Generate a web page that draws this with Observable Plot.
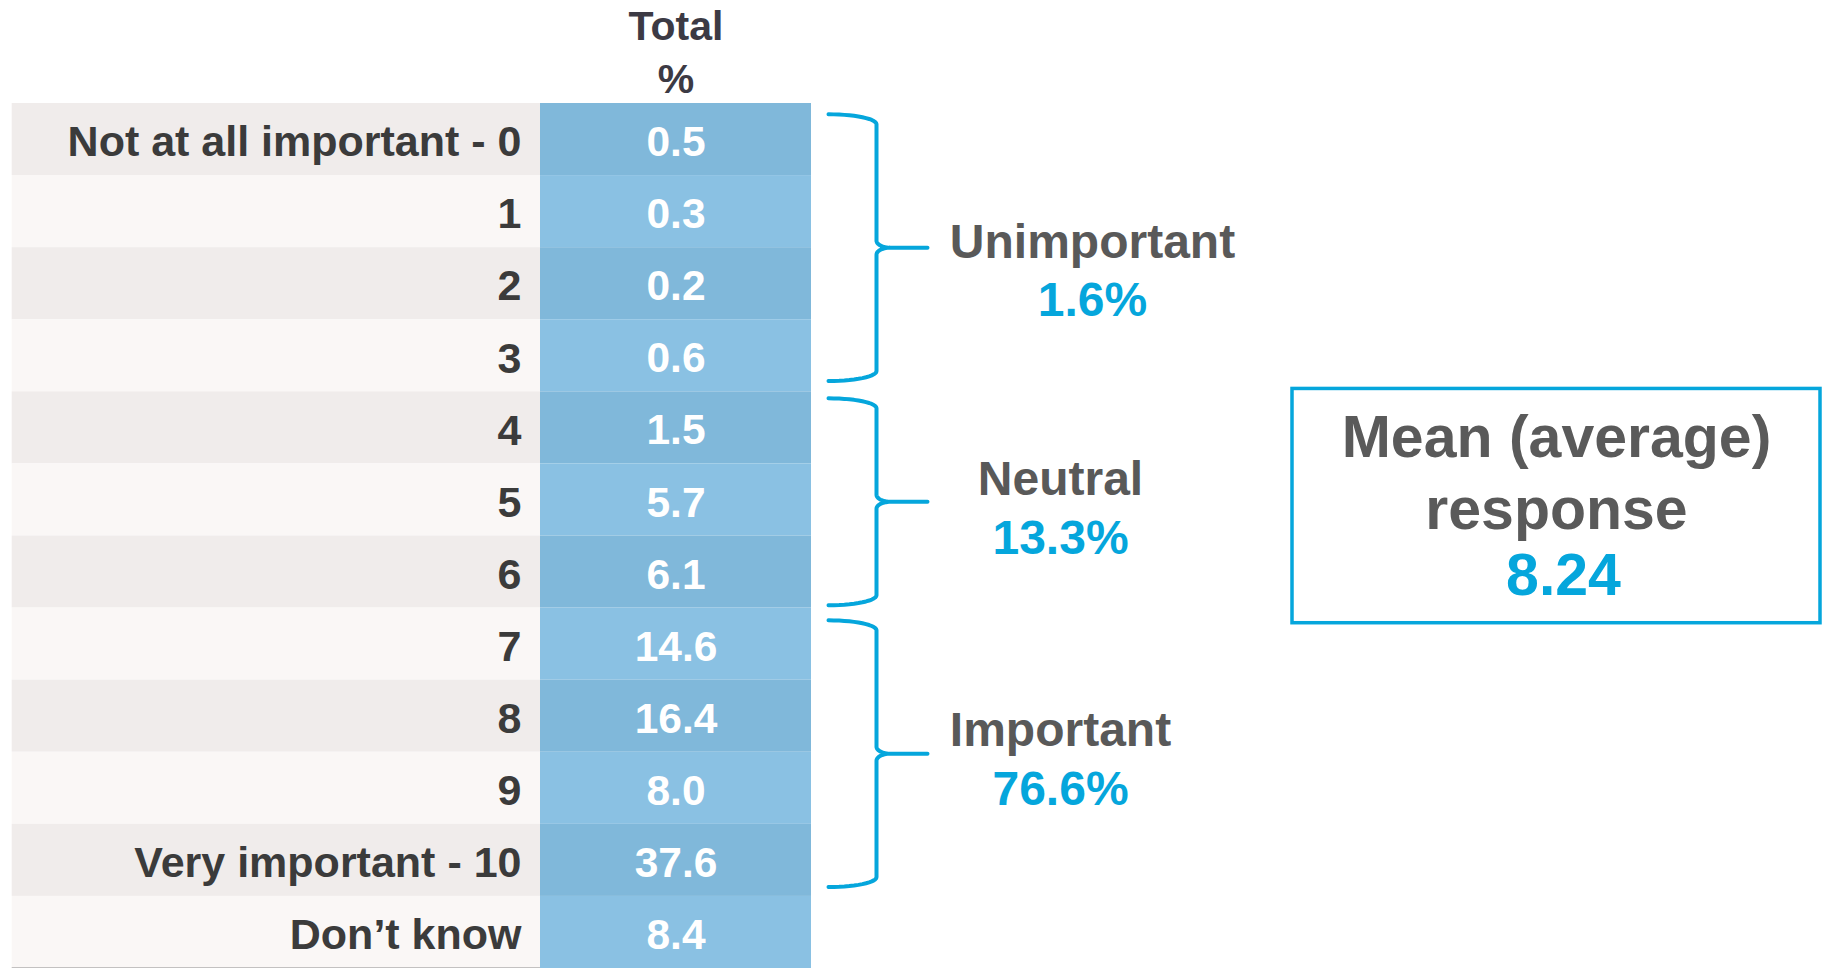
<!DOCTYPE html>
<html>
<head>
<meta charset="utf-8">
<script src="https://cdn.jsdelivr.net/npm/d3@7"></script>
<script src="https://cdn.jsdelivr.net/npm/@observablehq/plot@0.6"></script>
<style>
  html, body { margin: 0; padding: 0; background: #ffffff; }
  #chart svg { display: block; }
</style>
</head>
<body>
<div id="chart"></div>
<script>
// ---------- data ----------
const categories = ["Not at all important - 0", "1", "2", "3", "4", "5", "6", "7", "8", "9", "Very important - 10", "Don’t know"];
const totals = [0.5, 0.3, 0.2, 0.6, 1.5, 5.7, 6.1, 14.6, 16.4, 8.0, 37.6, 8.4];
const columnHeader = ["Total", "%"];
const groupNames = ["Unimportant", "Neutral", "Important"];
const groupPcts = [1.6, 13.3, 76.6];
const groupFirstRow = [0, 4, 7];
const groupLastRow = [3, 6, 10];
const meanLabel = ["Mean (average)", "response"];
const meanValue = 8.24;

// ---------- layout (not data) ----------
const W = 1828, H = 968, TOP = 103;
const K = (H - TOP) / categories.length; // px per row
const FONT = "'Liberation Sans', Arial, Helvetica, sans-serif";
const BLUE = "#05a6dc";
const labelColX1 = 11.7, labelColX2 = 540, valueColX2 = 811;
const groupLabelX = [1092, 1060, 1060];
const groupLabelDy = [-0.11, -0.31, -0.33];
const braceInsetTop = [0.15, 0.09, 0.17];
const braceInsetBottom = [0.15, 0.04, 0.13];
const box = {x1: 1292, x2: 1820, y1: 3.96, y2: 7.21};
const boxTextCenter = 5.62;

const rows = categories.map((c, i) => ({c, v: totals[i], i}));

const groups = groupNames.map((name, gi) => ({
  name, pct: groupPcts[gi], from: groupFirstRow[gi], to: groupLastRow[gi] + 1, gi
}));

function bracePoints(g) {
  const top = g.from + braceInsetTop[g.gi], bottom = g.to - braceInsetBottom[g.gi], mid = (top + bottom) / 2;
  const xTip = 828, xSpine = 876, xPoint = 927;
  const rx1 = 48, ry1 = 10 / K, rx2 = 14, ry2 = 7 / K;
  const N = 14, pts = [];
  for (let j = 0; j <= N; j++) { const t = j / N * Math.PI / 2; pts.push([xTip + rx1 * Math.sin(t), top + ry1 - ry1 * Math.cos(t)]); }
  for (let j = 0; j <= N; j++) { const t = j / N * Math.PI / 2; pts.push([xSpine + rx2 - rx2 * Math.cos(t), mid - ry2 + ry2 * Math.sin(t)]); }
  pts.push([xPoint, mid]);
  for (let j = 0; j <= N; j++) { const t = j / N * Math.PI / 2; pts.push([xSpine + rx2 - rx2 * Math.sin(t), mid + ry2 - ry2 * Math.cos(t)]); }
  for (let j = 0; j <= N; j++) { const t = j / N * Math.PI / 2; pts.push([xTip + rx1 * Math.cos(t), bottom - ry1 + ry1 * Math.sin(t)]); }
  return pts.map(([x, y]) => ({gi: g.gi, x, y}));
}
const braceData = groups.flatMap(bracePoints);

const chart = Plot.plot({
  width: W,
  height: H,
  marginTop: TOP,
  marginBottom: 0,
  marginLeft: 0,
  marginRight: 0,
  style: {fontFamily: FONT, background: "#ffffff", overflow: "visible"},
  x: {domain: [0, W], axis: null},
  y: {domain: [0, categories.length], reverse: true, axis: null},
  marks: [
    // label column
    Plot.rect(rows, {x1: labelColX1, x2: labelColX2, y1: d => d.i, y2: d => d.i + 1,
      fill: d => d.i % 2 === 0 ? "#f0eceb" : "#faf7f6"}),
    // value column
    Plot.rect(rows, {x1: labelColX2, x2: valueColX2, y1: d => d.i, y2: d => d.i + 1,
      fill: d => d.i % 2 === 0 ? "#80b8da" : "#8ac1e3"}),
    // bottom rule
    Plot.ruleY([categories.length], {x1: labelColX1, x2: labelColX2, stroke: "#8c8c8c", strokeWidth: 2}),
    // header
    Plot.text([columnHeader.join("\n")], {x: (labelColX2 + valueColX2) / 2, y: -0.75, text: d => d,
      lineHeight: 1.3, fontSize: 41, fontWeight: "bold", fill: "#3c3a44"}),
    // row labels
    Plot.text(rows, {x: labelColX2 - 19, y: d => d.i + 0.5, dy: 3, text: "c", textAnchor: "end",
      fontSize: 43, fontWeight: "bold", fill: "#3b3b3b"}),
    // values
    Plot.text(rows, {x: (labelColX2 + valueColX2) / 2, y: d => d.i + 0.5, dy: 3, text: d => d.v.toFixed(1),
      fontSize: 42.5, fontWeight: "bold", fill: "#ffffff"}),
    // braces
    Plot.line(braceData, {x: "x", y: "y", z: "gi", stroke: BLUE, strokeWidth: 4, curve: "linear",
      strokeLinejoin: "round", strokeLinecap: "round"}),
    // group labels
    Plot.text(groups, {x: d => groupLabelX[d.gi], y: d => (d.from + d.to) / 2 + groupLabelDy[d.gi], dy: 2.5, text: "name",
      fontSize: 48, fontWeight: "bold", fill: "#595959"}),
    Plot.text(groups, {x: d => groupLabelX[d.gi], y: d => (d.from + d.to) / 2 + groupLabelDy[d.gi] + 0.81, dy: 2.5,
      text: d => d.pct.toFixed(1) + "%", fontSize: 48, fontWeight: "bold", fill: BLUE}),
    // mean box
    Plot.rect([meanValue], {x1: box.x1, x2: box.x2, y1: box.y1, y2: box.y2, fill: "#ffffff",
      stroke: BLUE, strokeWidth: 3.5}),
    Plot.text(meanLabel, {x: (box.x1 + box.x2) / 2, y: (d, i) => boxTextCenter - 1 + i, dy: 1.5, text: d => d,
      fontSize: 59, fontWeight: "bold", fill: "#5a5a5a"}),
    Plot.text([meanValue], {x: (box.x1 + box.x2) / 2, y: boxTextCenter + 1, dx: 7, dy: -4.5, text: d => d.toFixed(2),
      fontSize: 59, fontWeight: "bold", fill: BLUE})
  ]
});
document.getElementById("chart").append(chart);
</script>
</body>
</html>
